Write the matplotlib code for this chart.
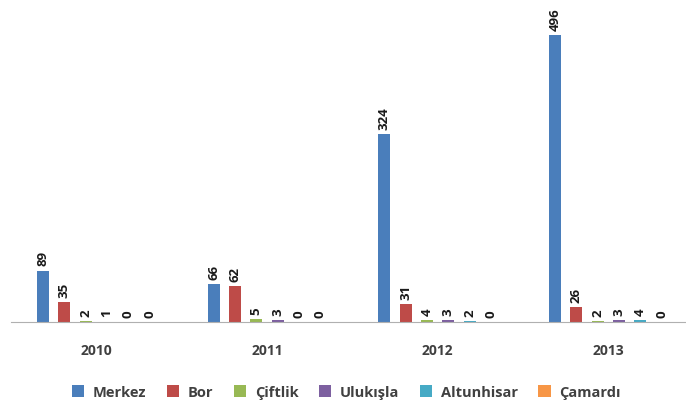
import matplotlib
matplotlib.use('Agg')
import matplotlib.pyplot as plt
import numpy as np

plt.rcParams['font.family'] = ['Open Sans', 'DejaVu Sans']

# Veriler
years = ['2010', '2011', '2012', '2013']
series = ['Merkez', 'Bor', 'Çiftlik', 'Ulukışla', 'Altunhisar', 'Çamardı']
merkez = [89, 66, 324, 496]
bor = [35, 62, 31, 26]
ciftlik = [2, 5, 4, 2]
ulukisla = [1, 3, 3, 3]
altunhisar = [0, 0, 2, 4]
camardi = [0, 0, 0, 0]
colors = ['#4a7ebb', '#be4b48', '#98b954', '#7d60a0', '#46aac5', '#f79646']

values = [merkez, bor, ciftlik, ulukisla, altunhisar, camardi]

fig = plt.figure(figsize=(6.86, 4.10), dpi=100)
ax = fig.add_axes([0.016, 0.212, 0.995, 0.788])

x = np.arange(len(years))
step = 0.125
width = 0.07
for i, (name, vals, c) in enumerate(zip(series, values, colors)):
    pos = x + (i - 2.5) * step
    ax.bar(pos, vals, width=width, color=c, label=name)
    for p, v in zip(pos, vals):
        ax.text(p, v + 9, str(v), rotation=90, ha='center', va='bottom',
                fontsize=9.5, fontweight='bold', color='#1a1a1a')

ax.set_xlim(-0.5, 3.5)
ax.set_ylim(0, 558)
ax.set_yticks([])
ax.set_xticks(x)
ax.set_xticklabels(years, fontsize=10, fontweight='bold', color='#404040')
ax.tick_params(axis='x', length=0, pad=15)
for s in ['top', 'right', 'left']:
    ax.spines[s].set_visible(False)
ax.spines['bottom'].set_color('#b0b0b0')

fig.legend(loc='center', bbox_to_anchor=(0.505, 0.041), ncol=6, frameon=False,
           prop={'size': 10.5, 'weight': 'bold'}, labelcolor='#404040',
           handlelength=0.85, handleheight=0.85, columnspacing=1.4, handletextpad=0.6)

fig.savefig('out.png', dpi=100)
